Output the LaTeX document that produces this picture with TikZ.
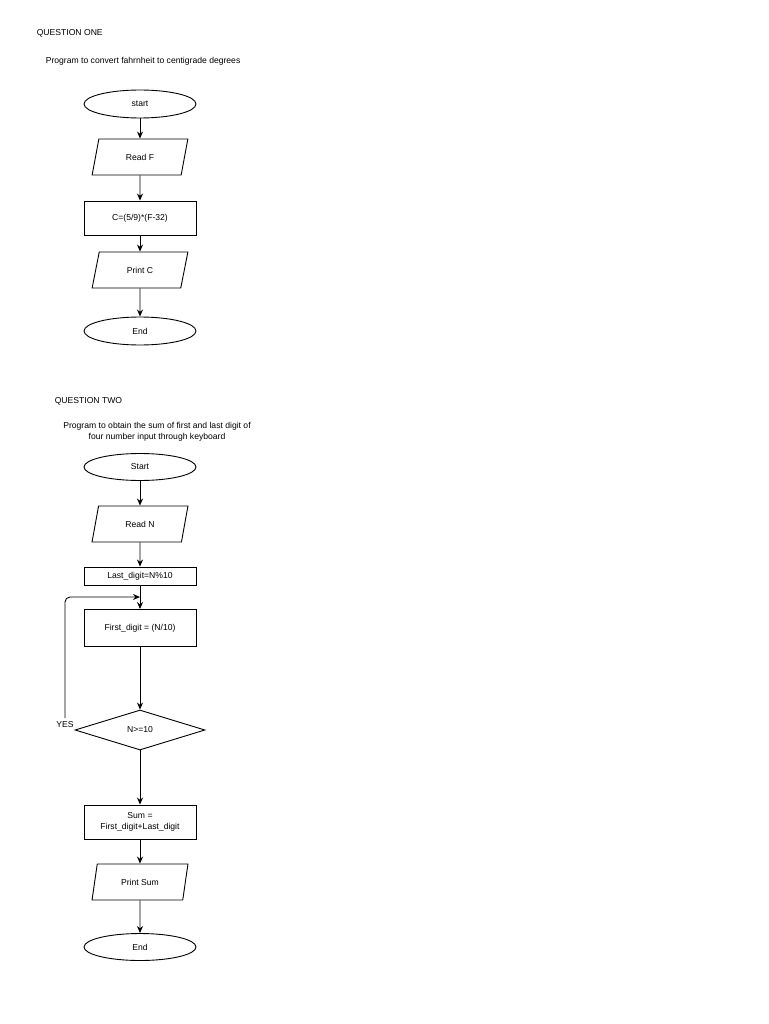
\documentclass[tikz,border=0pt]{standalone}
\usepackage{fontspec}
\setmainfont{Liberation Sans}
\usetikzlibrary{shapes.geometric,arrows.meta}
\tikzset{
  every node/.style={font=\fontsize{8.6}{10.5}\selectfont},
  term/.style={draw, ellipse, minimum width=112pt, minimum height=28pt, inner sep=0pt},
  io/.style={draw, trapezium, trapezium left angle=70, trapezium right angle=110, minimum width=96pt, minimum height=36pt, inner sep=0pt, trapezium stretches=true},
  proc/.style={draw, rectangle, minimum width=112pt, minimum height=34pt, inner sep=1pt, align=center},
  dec/.style={draw, diamond, minimum width=130pt, minimum height=40pt, inner sep=0pt, aspect=3.2},
  flow/.style={-{Stealth[length=7pt,width=6pt]}}
}
\begin{document}
\begin{tikzpicture}[x=1pt,y=-1pt,line width=0.9pt]
            \useasboundingbox (0,0) rectangle (768,1024);
            % question one
            \node[anchor=west] (q1) at (33,33) {QUESTION ONE};
            \node[anchor=west] (t1) at (42,61) {Program to convert fahrnheit to centigrade degrees};
            \node[term] (s1) at (140,104) {start};
            \node[io] (rf) at (140,157) {Read F};
            \node[proc] (cc) at (140,218) {C=(5/9)*(F-32)};
            \node[io] (pc) at (140,270) {Print C};
            \node[term] (e1) at (140,331) {End};
            \draw[flow] (s1) -- (rf);
            \draw[flow] (rf) -- (cc);
            \draw[flow] (cc) -- (pc);
            \draw[flow] (pc) -- (e1);
            % question two
            \node[anchor=west] (q2) at (51,401) {QUESTION TWO};
            \node[align=center] (t2) at (157,432) {Program to obtain the sum of first and last digit of\\four number input through keyboard};
            \node[term, minimum height=27pt] (s2) at (140,467) {Start};
            \node[io] (rn) at (140,524) {Read N};
            \node[proc, minimum height=18pt] (ld) at (140,576) {Last\_digit=N\%10};
            \node[proc, minimum height=37pt] (fd) at (140,628) {First\_digit = (N/10)};
            \node[dec] (nd) at (140,730) {N>=10};
            \node[proc] (sm) at (140,822) {Sum =\\First\_digit+Last\_digit};
            \node[io] (ps) at (140,882) {Print Sum};
            \node[term, minimum height=27pt] (e2) at (140,947) {End};
            \coordinate (yes) at (65,718);
            \coordinate (loopin) at (140,597);
            \node (yl) at (65,725) {YES};
            \draw[flow] (s2) -- (rn);
            \draw[flow] (rn) -- (ld);
            \draw[flow] (ld) -- (fd);
            \draw[flow] (fd) -- (nd);
            \draw[flow] (nd) -- (sm);
            \draw[flow] (sm) -- (ps);
            \draw[flow] (ps) -- (e2);
            \draw[flow, rounded corners=5pt] (yes) |- (loopin);
\end{tikzpicture}
\end{document}
